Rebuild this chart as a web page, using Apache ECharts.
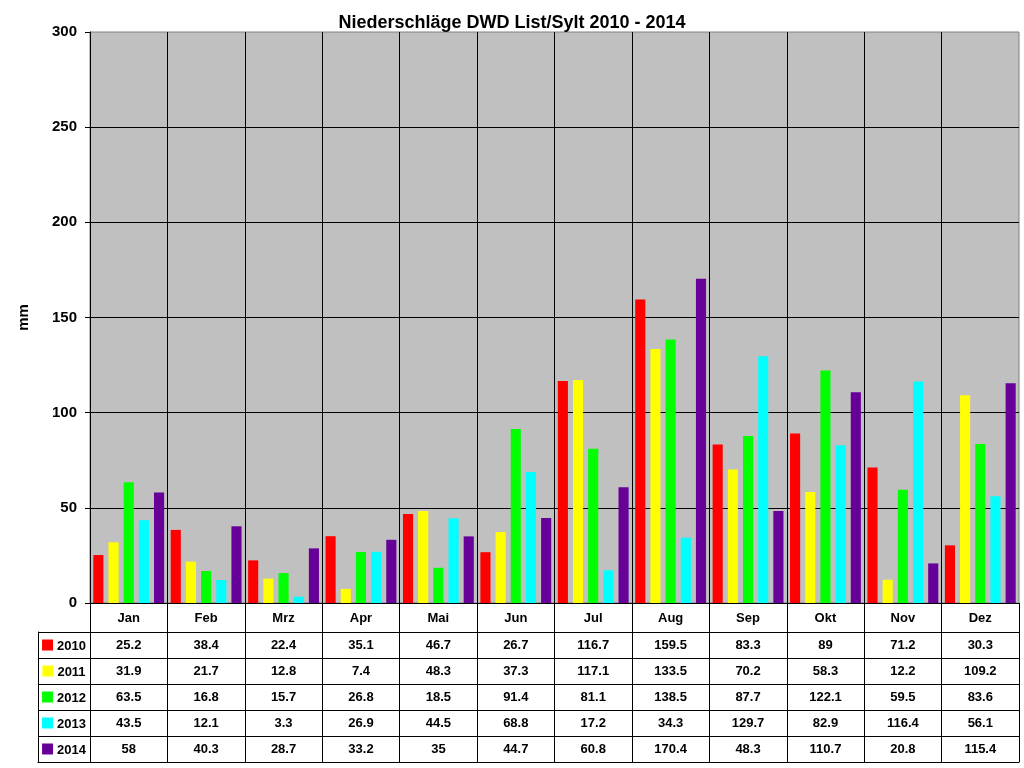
<!DOCTYPE html>
<html>
<head>
<meta charset="utf-8">
<script src="https://cdn.jsdelivr.net/npm/echarts@6/dist/echarts.min.js"></script>
<style>
html,body{margin:0;padding:0;background:#fff;}
#c{width:1024px;height:768px;}
</style>
</head>
<body>
<div id="c"></div>
<script>
var titleText = 'Niederschläge DWD List/Sylt 2010 - 2014';
var months = ['Jan','Feb','Mrz','Apr','Mai','Jun','Jul','Aug','Sep','Okt','Nov','Dez'];
var years = ['2010','2011','2012','2013','2014'];
var colors = ['#FF0000','#FFFF00','#00FF00','#00FFFF','#660099'];
var v2010 = [25.2,38.4,22.4,35.1,46.7,26.7,116.7,159.5,83.3,89,71.2,30.3];
var v2011 = [31.9,21.7,12.8,7.4,48.3,37.3,117.1,133.5,70.2,58.3,12.2,109.2];
var v2012 = [63.5,16.8,15.7,26.8,18.5,91.4,81.1,138.5,87.7,122.1,59.5,83.6];
var v2013 = [43.5,12.1,3.3,26.9,44.5,68.8,17.2,34.3,129.7,82.9,116.4,56.1];
var v2014 = [58,40.3,28.7,33.2,35,44.7,60.8,170.4,48.3,110.7,20.8,115.4];
var yTicks = {min:0, max:300, interval:50};
var yName = 'mm';

var allVals = [v2010, v2011, v2012, v2013, v2014];
var FONT = '"Liberation Sans", Arial, sans-serif';

var series = [];
allVals.forEach(function (vals, i) {
  series.push({
    name: years[i], type: 'bar', xAxisIndex: 0, yAxisIndex: 0,
    data: vals,
    itemStyle: {color: colors[i]},
    barGap: '50%', barCategoryGap: '8.5%',
    silent: true
  });
});

// table values
var cellData = [];
allVals.forEach(function (vals, r) {
  vals.forEach(function (v, c) { cellData.push([c, r, v]); });
});
series.push({
  type: 'scatter', xAxisIndex: 1, yAxisIndex: 1,
  symbolSize: 0, silent: true,
  itemStyle: {opacity: 1},
  data: cellData,
  label: {
    show: true, position: 'inside', color: '#000', opacity: 1,
    fontFamily: FONT, fontWeight: 'bold', fontSize: 13,
    formatter: function (p) { return String(p.value[2]); }
  }
});
// row headers
var rich = {yr: {fontFamily: FONT, fontWeight: 'bold', fontSize: 13, color: '#000', padding: [2, 0, 0, 4]}};
colors.forEach(function (c, i) {
  rich['sq' + i] = {backgroundColor: c, width: 11, height: 11};
});
series.push({
  type: 'scatter', xAxisIndex: 2, yAxisIndex: 2,
  symbolSize: 0, silent: true,
  itemStyle: {opacity: 1},
  data: years.map(function (y, i) { return [0, i, y]; }),
  label: {
    show: true, position: 'inside', rich: rich, opacity: 1,
    formatter: function (p) { return '{sq' + p.dataIndex + '|}{yr|' + p.value[2] + '}'; }
  }
});

var black = {color: '#000', width: 1};
var chart = echarts.init(document.getElementById('c'));
chart.setOption({
  backgroundColor: '#fff',
  animation: false,
  title: {
    text: titleText, left: 'center', top: 9,
    textStyle: {fontFamily: FONT, fontWeight: 'bold', fontSize: 18, color: '#000'}
  },
  grid: [
    {left: 90, right: 5, top: 32, height: 571, show: true, backgroundColor: '#C0C0C0', borderColor: '#808080', borderWidth: 1},
    {left: 90, right: 5, top: 632, height: 130},
    {left: 38, width: 52, top: 632, height: 130}
  ],
  xAxis: [
    {
      gridIndex: 0, type: 'category', data: months,
      axisLine: {show: true, lineStyle: black},
      axisTick: {show: true, length: 29, interval: 0, alignWithLabel: false, lineStyle: black},
      axisLabel: {interval: 0, margin: 9, color: '#000', fontFamily: FONT, fontWeight: 'bold', fontSize: 13},
      splitLine: {show: true, interval: 0, showMinLine: false, showMaxLine: false, lineStyle: black}
    },
    {
      gridIndex: 1, type: 'category', data: months,
      axisLine: {show: true, lineStyle: black},
      axisTick: {show: false}, axisLabel: {show: false},
      splitLine: {show: true, interval: 0, lineStyle: black}
    },
    {
      gridIndex: 2, type: 'category', data: [''],
      axisLine: {show: true, lineStyle: black},
      axisTick: {show: false}, axisLabel: {show: false},
      splitLine: {show: true, interval: 0, lineStyle: black}
    }
  ],
  yAxis: [
    {
      gridIndex: 0, type: 'value', min: yTicks.min, max: yTicks.max, interval: yTicks.interval,
      name: yName, nameLocation: 'middle', nameRotate: 90, nameGap: 59,
      nameTextStyle: {fontFamily: FONT, fontWeight: 'bold', fontSize: 15, color: '#000'},
      axisLine: {show: true, lineStyle: black},
      axisTick: {show: true, length: 5, lineStyle: black},
      axisLabel: {margin: 13, color: '#000', fontFamily: FONT, fontWeight: 'bold', fontSize: 15},
      splitLine: {show: true, showMaxLine: false, lineStyle: black}
    },
    {
      gridIndex: 1, type: 'category', data: years, inverse: true,
      axisLine: {show: true, lineStyle: black},
      axisTick: {show: false}, axisLabel: {show: false},
      splitLine: {show: true, interval: 0, lineStyle: black}
    },
    {
      gridIndex: 2, type: 'category', data: years, inverse: true,
      axisLine: {show: true, lineStyle: black},
      axisTick: {show: false}, axisLabel: {show: false},
      splitLine: {show: true, interval: 0, lineStyle: black}
    }
  ],
  series: series
});
</script>
</body>
</html>
